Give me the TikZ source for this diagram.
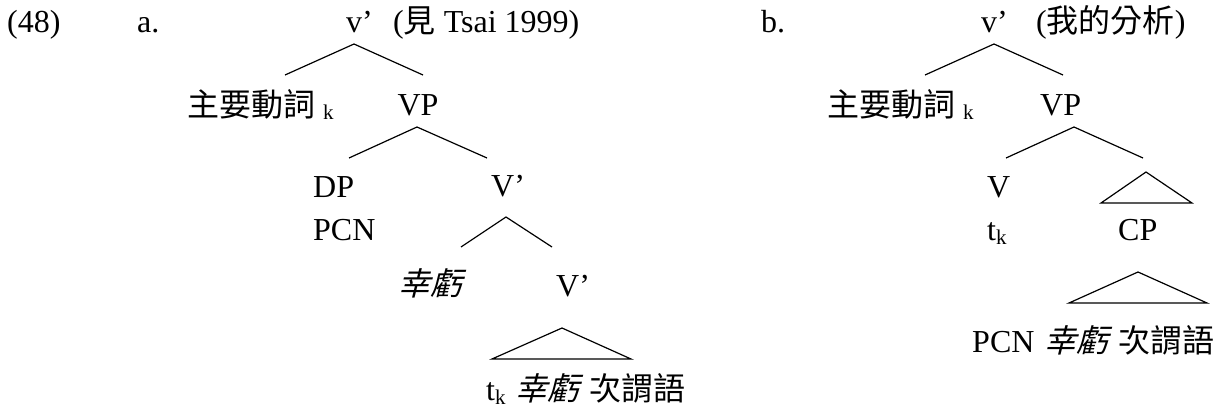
\documentclass[tikz,border=0pt]{standalone}
\usepackage{fontspec}
\setmainfont{Liberation Serif}
\newfontfamily\cjk{Noto Sans CJK TC}
\newfontfamily\cjkit[FakeSlant=0.25]{Noto Sans CJK TC}
\newcommand\mysubk[1]{\raisebox{-#1}{\fontsize{21}{21}\selectfont k}}
\begin{document}
\begin{tikzpicture}[x=1pt,y=-1pt,
  lbl/.style={inner sep=0pt, font=\fontsize{32}{34}\selectfont},
  edge/.style={line width=1.2pt, line join=miter}]
\useasboundingbox (0,0) rectangle (1224,415);
% ---- tree a ----
\node[lbl, anchor=base west] (num) at (7,32) {(48)};
\node[lbl, anchor=base west] (la) at (137,32) {a.};
\node[lbl, anchor=base west] (av) at (346,32) {v’};
\node[lbl, anchor=base west] (anote) at (393,32) {({\cjk 見} Tsai 1999)};
\node[lbl, anchor=base west] (amv) at (187,116) {{\cjk 主要動詞}\hspace{8pt}\mysubk{3pt}};
\node[lbl, anchor=base] (avp) at (418,115) {VP};
\node[lbl, anchor=base west] (adp) at (313,197) {DP};
\node[lbl, anchor=base west] (apcn) at (313,240) {PCN};
\node[lbl, anchor=base west] (avb1) at (491,196) {V’};
\node[lbl, anchor=base west] (axk) at (398,295) {\cjkit 幸虧};
\node[lbl, anchor=base west] (avb2) at (556,296) {V’};
\node[lbl, anchor=base west] (abot) at (486,400) {t\mysubk{4pt}\hspace{10pt}{\cjkit 幸虧}\hspace{10pt}{\cjk 次謂語}};
\coordinate (a1) at (354,44); \coordinate (a1l) at (285,75); \coordinate (a1r) at (423,75);
\coordinate (a2) at (417,127); \coordinate (a2l) at (349,158); \coordinate (a2r) at (487,158);
\coordinate (a3) at (506,217); \coordinate (a3l) at (461,247); \coordinate (a3r) at (552,247);
\coordinate (a4) at (562,328); \coordinate (a4l) at (492,359); \coordinate (a4r) at (631,359);
\draw[edge] (a1l) -- (a1) -- (a1r);
\draw[edge] (a2l) -- (a2) -- (a2r);
\draw[edge] (a3l) -- (a3) -- (a3r);
\draw[edge] (a4l) -- (a4) -- (a4r) -- cycle;
% ---- tree b ----
\node[lbl, anchor=base west] (lb) at (761,32) {b.};
\node[lbl, anchor=base west] (bv) at (981,32) {v’};
\node[lbl, anchor=base west] (bnote) at (1036,32) {({\cjk 我的分析})};
\node[lbl, anchor=base west] (bmv) at (827,116) {{\cjk 主要動詞}\hspace{8pt}\mysubk{3pt}};
\node[lbl, anchor=base west] (bvp) at (1040,115) {VP};
\node[lbl, anchor=base west] (bV) at (987,197) {V};
\node[lbl, anchor=base west] (btk) at (987,240) {t\mysubk{4pt}};
\node[lbl, anchor=base west] (bcp) at (1118,240) {CP};
\node[lbl, anchor=base west] (bbot) at (972,352) {PCN\hspace{10pt}{\cjkit 幸虧}\hspace{10pt}{\cjk 次謂語}};
\coordinate (b1) at (994,44); \coordinate (b1l) at (925,75); \coordinate (b1r) at (1063,75);
\coordinate (b2) at (1074,127); \coordinate (b2l) at (1006,158); \coordinate (b2r) at (1143,158);
\coordinate (b3) at (1146,172); \coordinate (b3l) at (1101,203); \coordinate (b3r) at (1192,203);
\coordinate (b4) at (1138,272); \coordinate (b4l) at (1069,303); \coordinate (b4r) at (1207,303);
\draw[edge] (b1l) -- (b1) -- (b1r);
\draw[edge] (b2l) -- (b2) -- (b2r);
\draw[edge] (b3l) -- (b3) -- (b3r) -- cycle;
\draw[edge] (b4l) -- (b4) -- (b4r) -- cycle;
\end{tikzpicture}
\end{document}
